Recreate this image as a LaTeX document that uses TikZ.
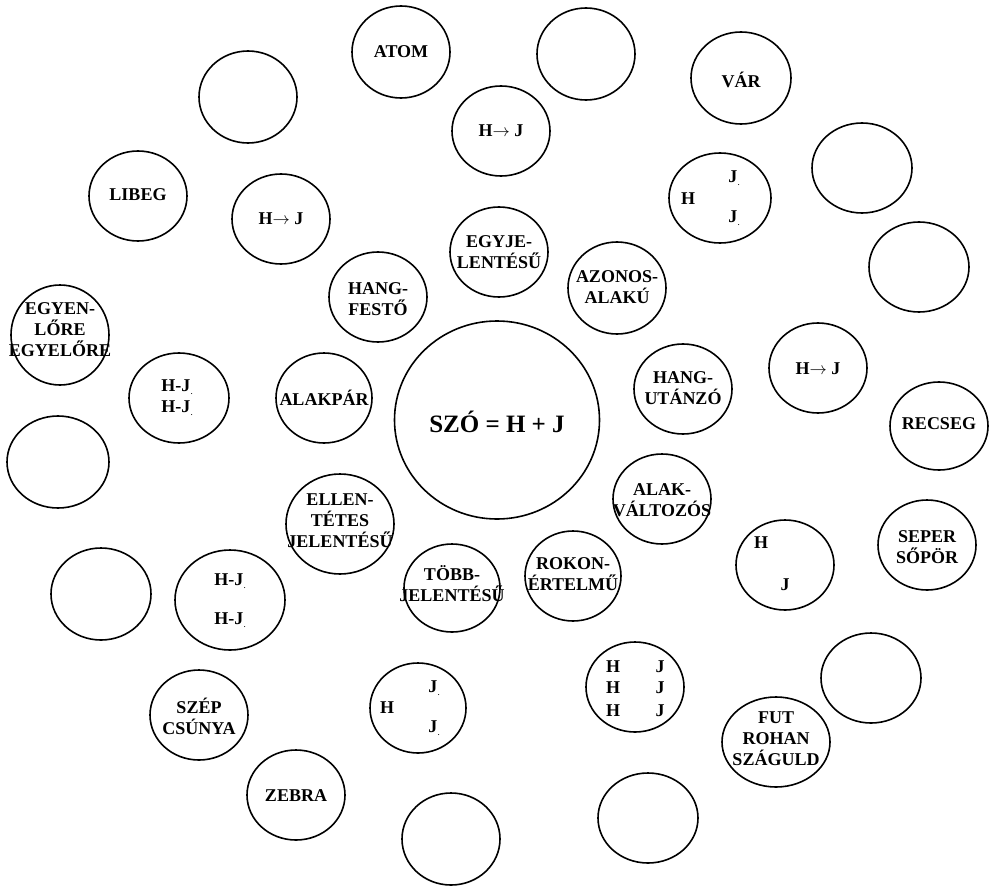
\documentclass[tikz,border=0pt]{standalone}
\usepackage{fontspec}
\setmainfont{Liberation Serif}
\usetikzlibrary{shapes.geometric}
\tikzset{
  circ/.style={draw, ellipse, line width=1.6pt, inner sep=0pt,
    minimum width=98pt, minimum height=90pt},
  lbl/.style={inner sep=0pt, align=center, font=\bfseries\fontsize{18}{21}\selectfont},
  big/.style={font=\bfseries\fontsize{25}{28}\selectfont}
}
\newcommand{\jd}{J\kern0.5pt\raisebox{-3pt}{\scriptsize.}}
\begin{document}
\begin{tikzpicture}[x=1pt,y=-1pt]
\useasboundingbox (0,0) rectangle (996,886);
% center
\node[circ, minimum width=205pt, minimum height=198pt] (szo) at (497,420) {};
\node[lbl, big] (szo-t) at (497,422) {SZÓ = H + J};
% inner ring
\node[circ] (egyje) at (499,252) {};
\node[lbl] (egyje-t) at (499,252) {EGYJE-\\LENTÉSŰ};
\node[circ] (festo) at (378,297) {};
\node[lbl] (festo-t) at (378,299) {HANG-\\FESTŐ};
\node[circ, minimum height=92pt] (azonos) at (617,288) {};
\node[lbl] (azonos-t) at (617,287) {AZONOS-\\ALAKÚ};
\node[circ, minimum width=96pt] (alakpar) at (324,398) {};
\node[lbl] (alakpar-t) at (324,398) {ALAKPÁR};
\node[circ] (utanzo) at (683,389) {};
\node[lbl] (utanzo-t) at (683,388) {HANG-\\UTÁNZÓ};
\node[circ, minimum width=108pt, minimum height=100pt] (ellen) at (340,524) {};
\node[lbl] (ellen-t) at (340,521) {ELLEN-\\TÉTES\\JELENTÉSŰ};
\node[circ] (valtozos) at (662,499) {};
\node[lbl] (valtozos-t) at (662,500) {ALAK-\\VÁLTOZÓS};
\node[circ, minimum width=96pt, minimum height=88pt] (tobb) at (452,588) {};
\node[lbl] (tobb-t) at (452,584) {TÖBB-\\JELENTÉSŰ};
\node[circ, minimum width=96pt] (rokon) at (573,576) {};
\node[lbl] (rokon-t) at (573,574) {ROKON-\\ÉRTELMŰ};
% middle ring
\node[circ] (hj1) at (501,131) {};
\node[lbl] (hj1-t) at (501,131) {H$\rightarrow$ J};
\node[circ] (hj2) at (281,219) {};
\node[lbl] (hj2-t) at (281,219) {H$\rightarrow$ J};
\node[circ] (hj3) at (818,368) {};
\node[lbl] (hj3-t) at (818,369) {H$\rightarrow$ J};
\node[circ, minimum width=102pt] (hjj1) at (720,198) {};
\node[lbl] (hjj1h) at (688,199) {H};
\node[lbl] (hjj1a) at (734,178) {\jd};
\node[lbl] (hjj1b) at (734,218) {\jd};
\node[circ, minimum width=100pt] (hhj1) at (179,398) {};
\node[lbl] (hhj1a) at (177,387) {H-\jd};
\node[lbl] (hhj1b) at (177,408) {H-\jd};
\node[circ, minimum width=110pt, minimum height=100pt] (hhj2) at (230,600) {};
\node[lbl] (hhj2a) at (230,581) {H-\jd};
\node[lbl] (hhj2b) at (230,620) {H-\jd};
\node[circ, minimum width=96pt] (hjj2) at (418,708) {};
\node[lbl] (hjj2h) at (387,708) {H};
\node[lbl] (hjj2a) at (434,688) {\jd};
\node[lbl] (hjj2b) at (434,728) {\jd};
\node[circ] (hj4) at (785,565) {};
\node[lbl] (hj4h) at (761,543) {H};
\node[lbl] (hj4j) at (785,585) {J};
\node[circ] (hhh) at (635,687) {};
\node[lbl] (hhh1) at (613,667) {H};
\node[lbl] (hhh2) at (613,688) {H};
\node[lbl] (hhh3) at (613,711) {H};
\node[lbl] (jjj1) at (660,667) {J};
\node[lbl] (jjj2) at (660,688) {J};
\node[lbl] (jjj3) at (660,711) {J};
% outer ring
\node[circ, minimum height=92pt] (atom) at (401,52) {};
\node[lbl] (atom-t) at (401,52) {ATOM};
\node[circ, minimum height=92pt] (e1) at (248,97) {};
\node[circ, minimum height=92pt] (e2) at (586,54) {};
\node[circ, minimum width=100pt, minimum height=92pt] (var) at (741,78) {};
\node[lbl] (var-t) at (741,80) {VÁR};
\node[circ, minimum width=100pt] (e3) at (862,168) {};
\node[circ, minimum width=100pt] (e4) at (919,267) {};
\node[circ] (libeg) at (138,196) {};
\node[lbl] (libeg-t) at (138,195) {LIBEG};
\node[circ, minimum height=100pt] (egyen) at (60,335) {};
\node[lbl] (egyen-t) at (60,330) {EGYEN-\\LŐRE\\EGYELŐRE};
\node[circ, minimum width=102pt, minimum height=92pt] (e5) at (58,462) {};
\node[circ, minimum height=88pt] (recseg) at (939,426) {};
\node[lbl] (recseg-t) at (939,424) {RECSEG};
\node[circ] (seper) at (927,545) {};
\node[lbl] (seper-t) at (927,547) {SEPER\\SŐPÖR};
\node[circ, minimum width=100pt, minimum height=92pt] (e6) at (101,594) {};
\node[circ] (szep) at (199,715) {};
\node[lbl] (szep-t) at (199,716) {SZÉP\\CSÚNYA};
\node[circ] (zebra) at (296,795) {};
\node[lbl] (zebra-t) at (296,796) {ZEBRA};
\node[circ, minimum height=92pt] (e7) at (451,839) {};
\node[circ, minimum width=100pt] (e8) at (648,818) {};
\node[circ, minimum width=108pt] (fut) at (776,742) {};
\node[lbl] (fut-t) at (776,739) {FUT\\ROHAN\\SZÁGULD};
\node[circ, minimum width=100pt] (e9) at (871,678) {};
\end{tikzpicture}
\end{document}
